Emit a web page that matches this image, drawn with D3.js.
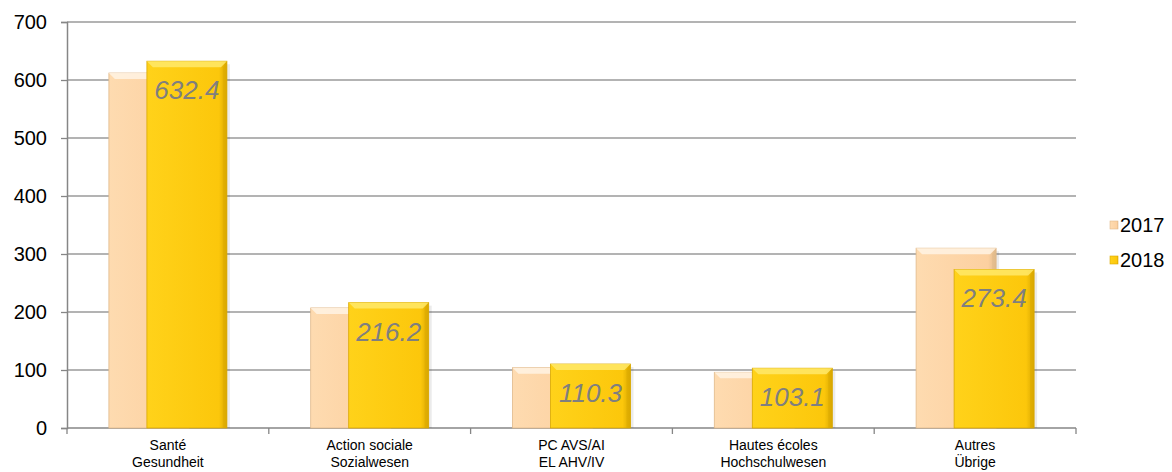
<!DOCTYPE html>
<html>
<head>
<meta charset="utf-8">
<script src="https://cdn.jsdelivr.net/npm/d3@7"></script>
<style>
  body { margin: 0; background: #fff; }
  svg { font-family: "Liberation Sans", Arial, sans-serif; }
</style>
</head>
<body>
<div id="chart"></div>
<script>
var categories = [
  ["Santé", "Gesundheit"],
  ["Action sociale", "Sozialwesen"],
  ["PC AVS/AI", "EL AHV/IV"],
  ["Hautes écoles", "Hochschulwesen"],
  ["Autres", "Übrige"]
];
var values2017 = [612, 207, 104, 96, 310];
var values2018 = [632.4, 216.2, 110.3, 103.1, 273.4];
var years = ["2017", "2018"];
var yTicks = [0, 100, 200, 300, 400, 500, 600, 700];

var width = 1172, height = 472;
var plotLeft = 67, plotRight = 1076, plotTop = 22, plotBottom = 428;

var svg = d3.select("#chart").append("svg")
  .attr("width", width)
  .attr("height", height);

var defs = svg.append("defs");
var fills = [
  { id: "g2017", a: "#fedbb0", b: "#fcd0a0", edge: "#e0b98a", light: "#fff3e4" },
  { id: "g2018", a: "#ffd21a", b: "#fcc70b", edge: "#d9a800", light: "#ffe96a" }
];
fills.forEach(function(f) {
  var g = defs.append("linearGradient").attr("id", f.id).attr("x1", 0).attr("x2", 1).attr("y1", 0).attr("y2", 0);
  g.append("stop").attr("offset", "0%").attr("stop-color", f.a);
  g.append("stop").attr("offset", "90%").attr("stop-color", f.b);
  g.append("stop").attr("offset", "100%").attr("stop-color", f.edge);
});

var x = d3.scaleBand().domain(d3.range(categories.length)).range([plotLeft, plotRight]);
var y = d3.scaleLinear().domain([0, 700]).range([plotBottom, plotTop]);

// gridlines
svg.append("g")
  .selectAll("line")
  .data(yTicks.slice(1))
  .enter().append("line")
  .attr("x1", plotLeft).attr("x2", plotRight)
  .attr("y1", function(d) { return y(d); })
  .attr("y2", function(d) { return y(d); })
  .attr("stroke", "#9a9a9a")
  .attr("stroke-width", 1.3);

// y axis
var yAxis = svg.append("g")
  .attr("transform", "translate(" + plotLeft + ",0)")
  .call(d3.axisLeft(y).tickValues(yTicks).tickSize(6).tickPadding(14));
yAxis.select(".domain").attr("stroke", "#868686").attr("stroke-width", 1.5);
yAxis.selectAll(".tick line").attr("stroke", "#868686").attr("stroke-width", 1.3);
yAxis.selectAll("text").attr("font-size", 20).attr("fill", "#000");

// x axis
var xAxis = svg.append("g")
  .attr("transform", "translate(0," + plotBottom + ")");
xAxis.append("line").attr("x1", plotLeft).attr("x2", plotRight).attr("stroke", "#868686").attr("stroke-width", 1.5);
xAxis.selectAll(".xt")
  .data(d3.range(categories.length + 1))
  .enter().append("line")
  .attr("x1", function(i) { return plotLeft + i * x.step(); })
  .attr("x2", function(i) { return plotLeft + i * x.step(); })
  .attr("y1", 0).attr("y2", 6)
  .attr("stroke", "#868686").attr("stroke-width", 1.3);
var lab = xAxis.selectAll(".xl")
  .data(categories)
  .enter().append("text")
  .attr("text-anchor", "middle")
  .attr("font-size", 14)
  .attr("x", function(d, i) { return x(i) + x.bandwidth() / 2; });
lab.append("tspan").attr("y", 22).attr("x", function(d, i) { return x(i) + x.bandwidth() / 2; }).text(function(d) { return d[0]; });
lab.append("tspan").attr("y", 39).attr("x", function(d, i) { return x(i) + x.bandwidth() / 2; }).text(function(d) { return d[1]; });

// bars
var barW = 80, offset = 38;
function drawBar(g, x0, v, f) {
  var yt = y(v), h = plotBottom - yt, b = 6;
  g.append("rect").attr("x", x0 + 3).attr("y", yt + 3).attr("width", barW).attr("height", h - 3)
    .attr("fill", "#000").attr("opacity", 0.08);
  g.append("rect").attr("x", x0).attr("y", yt).attr("width", barW).attr("height", h)
    .attr("fill", "url(#" + f.id + ")").attr("stroke", f.edge).attr("stroke-width", 0.8);
  g.append("path")
    .attr("d", "M" + x0 + "," + yt + "L" + (x0 + barW) + "," + yt + "L" + (x0 + barW - b) + "," + (yt + b) + "L" + (x0 + b) + "," + (yt + b) + "Z")
    .attr("fill", f.light).attr("opacity", 0.85);
  g.append("path")
    .attr("d", "M" + (x0 + barW) + "," + yt + "L" + (x0 + barW) + "," + plotBottom + "L" + (x0 + barW - 4) + "," + plotBottom + "L" + (x0 + barW - 4) + "," + (yt + b) + "Z")
    .attr("fill", f.edge).attr("opacity", 0.5);
}
var bars = svg.append("g");
categories.forEach(function(c, i) {
  var cx = x(i) + x.bandwidth() / 2;
  var start = cx - (barW + offset) / 2;
  drawBar(bars, start, values2017[i], fills[0]);
  drawBar(bars, start + offset, values2018[i], fills[1]);
  bars.append("text")
    .attr("x", start + offset + barW / 2)
    .attr("y", y(values2018[i]) + 38)
    .attr("text-anchor", "middle")
    .attr("font-size", 26)
    .attr("font-style", "italic")
    .attr("fill", "#7f7f7f")
    .text(values2018[i].toFixed(1));
});

// legend
var legend = svg.append("g");
years.forEach(function(yr, i) {
  var ly = 225 + i * 35;
  legend.append("rect").attr("x", 1110).attr("y", ly - 4).attr("width", 8).attr("height", 8)
    .attr("fill", "url(#" + fills[i].id + ")").attr("stroke", fills[i].edge).attr("stroke-width", 0.6);
  legend.append("text").attr("x", 1120).attr("y", ly).attr("dy", "0.35em")
    .attr("font-size", 20).attr("fill", "#000").text(yr);
});
</script>
</body>
</html>
